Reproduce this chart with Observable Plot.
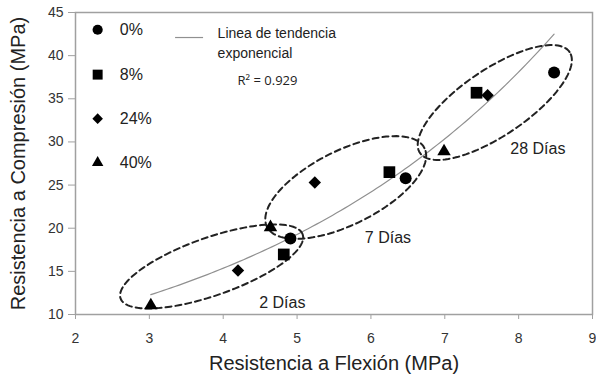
<!DOCTYPE html>
<html><head><meta charset="utf-8">
<script src="https://cdn.jsdelivr.net/npm/d3@7"></script>
<script src="https://cdn.jsdelivr.net/npm/@observablehq/plot@0.6"></script>
<style>body{margin:0;background:#fff}</style>
</head><body><div id="chart"></div>
<script>
// Data: flexural (x) and compressive (y) strength at 2, 7, 28 days
const series = ["0%", "8%", "24%", "40%"];
const symbols = ["circle", "square", "diamond2", "triangle"];
const ages = ["2 Días", "7 Días", "28 Días"];
const flex0 = [4.91, 6.47, 8.48];
const comp0 = [18.8, 25.8, 38.05];
const flex8 = [4.82, 6.25, 7.43];
const comp8 = [16.96, 26.5, 35.7];
const flex24 = [4.2, 5.24, 7.58];
const comp24 = [15.1, 25.3, 35.4];
const flex40 = [3.02, 4.64, 6.99];
const comp40 = [11.05, 20.1, 28.9];
const xTicks = [2, 3, 4, 5, 6, 7, 8, 9];
const yTicks = [10, 15, 20, 25, 30, 35, 40, 45];
const r2Label = "R² = 0.929";

// Ellipse annotations (data units): center and two semi-axis vectors
const ellCx = [3.843, 5.659, 7.677];
const ellCy = [15.57, 24.72, 34.57];
const ellUx = [1.233, 1.066, 1.013];
const ellUy = [3.71, 4.56, 5.85];
const ellVx = [-0.130, -0.224, -0.251];
const ellVy = [3.16, 3.83, 3.18];
const ageLabelX = [4.80, 6.23, 8.26];
const ageLabelY = [11.4, 18.9, 29.2];

// Legend positions (data units)
const legendX = 2.3;
const legendY = [43.0, 37.8, 32.7, 27.6];
const symbolR = [6, 6.6, 5.6, 5];

const flexAll = [flex0, flex8, flex24, flex40];
const compAll = [comp0, comp8, comp24, comp40];
const points = series.flatMap((s, i) => ages.map((a, j) => ({serie: s, age: a, x: flexAll[i][j], y: compAll[i][j]})));

// Exponential trend (least squares on ln y)
const mx = d3.mean(points, d => d.x), my = d3.mean(points, d => Math.log(d.y));
const b = d3.sum(points, d => (d.x - mx) * (Math.log(d.y) - my)) / d3.sum(points, d => (d.x - mx) ** 2);
const a = Math.exp(my - b * mx);
const [xmin, xmax] = d3.extent(points, d => d.x);
const trend = d3.range(101).map(i => { const x = xmin + (xmax - xmin) * i / 100; return {x, y: a * Math.exp(b * x)}; });

const ellipses = ellCx.flatMap((cx, k) => d3.range(121).map(i => {
  const t = 2 * Math.PI * i / 120;
  return {k, x: cx + ellUx[k] * Math.cos(t) + ellVx[k] * Math.sin(t), y: ellCy[k] + ellUy[k] * Math.cos(t) + ellVy[k] * Math.sin(t)};
}));

const marks = [
  Plot.frame({stroke: "#a0a0a0", strokeWidth: 1.5}),
  Plot.axisX({ticks: xTicks, tickFormat: "d", tickSize: 5, tickPadding: 14, fontSize: 14, stroke: "#a0a0a0", fill: "#333", label: null}),
  Plot.axisY({ticks: yTicks, tickFormat: "d", tickSize: 7, tickPadding: 5, fontSize: 14, stroke: "#a0a0a0", fill: "#333", label: null}),
  Plot.line(trend, {x: "x", y: "y", stroke: "#909090", strokeWidth: 1.2}),
  Plot.line(ellipses, {x: "x", y: "y", z: "k", stroke: "#222", strokeWidth: 2, strokeDasharray: "6,4"}),
  Plot.text(ages, {x: (d, i) => ageLabelX[i], y: (d, i) => ageLabelY[i], text: d => d, fontSize: 16, fill: "#222"}),
  Plot.text(["Resistencia a Compresión (MPa)"], {frameAnchor: "left", textAnchor: "middle", lineAnchor: "middle", rotate: -90, dx: -57, fontSize: 20, fill: "#222"}),
  Plot.text(["Resistencia a Flexión (MPa)"], {frameAnchor: "bottom", textAnchor: "middle", lineAnchor: "middle", dy: 49, fontSize: 20, fill: "#222"}),
  Plot.ruleY([42.1], {x1: 3.355, x2: 3.734, stroke: "#909090", strokeWidth: 1.2}),
  Plot.text(["Linea de tendencia"], {x: 3.924, y: 42.57, textAnchor: "start", fontSize: 14, fill: "#222"}),
  Plot.text(["exponencial"], {x: 3.924, y: 40.25, textAnchor: "start", fontSize: 14, fill: "#222"}),
  Plot.text([r2Label], {x: 4.60, y: 37.1, fontSize: 13, fill: "#222", fontFamily: "Open Sans, sans-serif"})
];
series.forEach((s, i) => {
  marks.push(Plot.dot(points.filter(d => d.serie === s), {x: "x", y: "y", symbol: () => symbols[i], r: symbolR[i], fill: "#000"}));
  marks.push(Plot.dot([s], {x: legendX, y: legendY[i], symbol: () => symbols[i], r: symbolR[i] * 0.85, fill: "#000"}));
  marks.push(Plot.text([s], {x: legendX + 0.3, y: legendY[i], textAnchor: "start", fontSize: 16, fill: "#222"}));
});

const chart = Plot.plot({
  width: 596, height: 380,
  marginLeft: 75, marginRight: 4, marginTop: 12, marginBottom: 66,
  style: {fontFamily: "Liberation Sans, Arial, sans-serif", background: "#fff"},
  x: {domain: [2, 9]},
  y: {domain: [10, 45]},
  symbol: {type: "identity"},
  marks
});
document.getElementById("chart").appendChild(chart);
</script>
</body></html>
